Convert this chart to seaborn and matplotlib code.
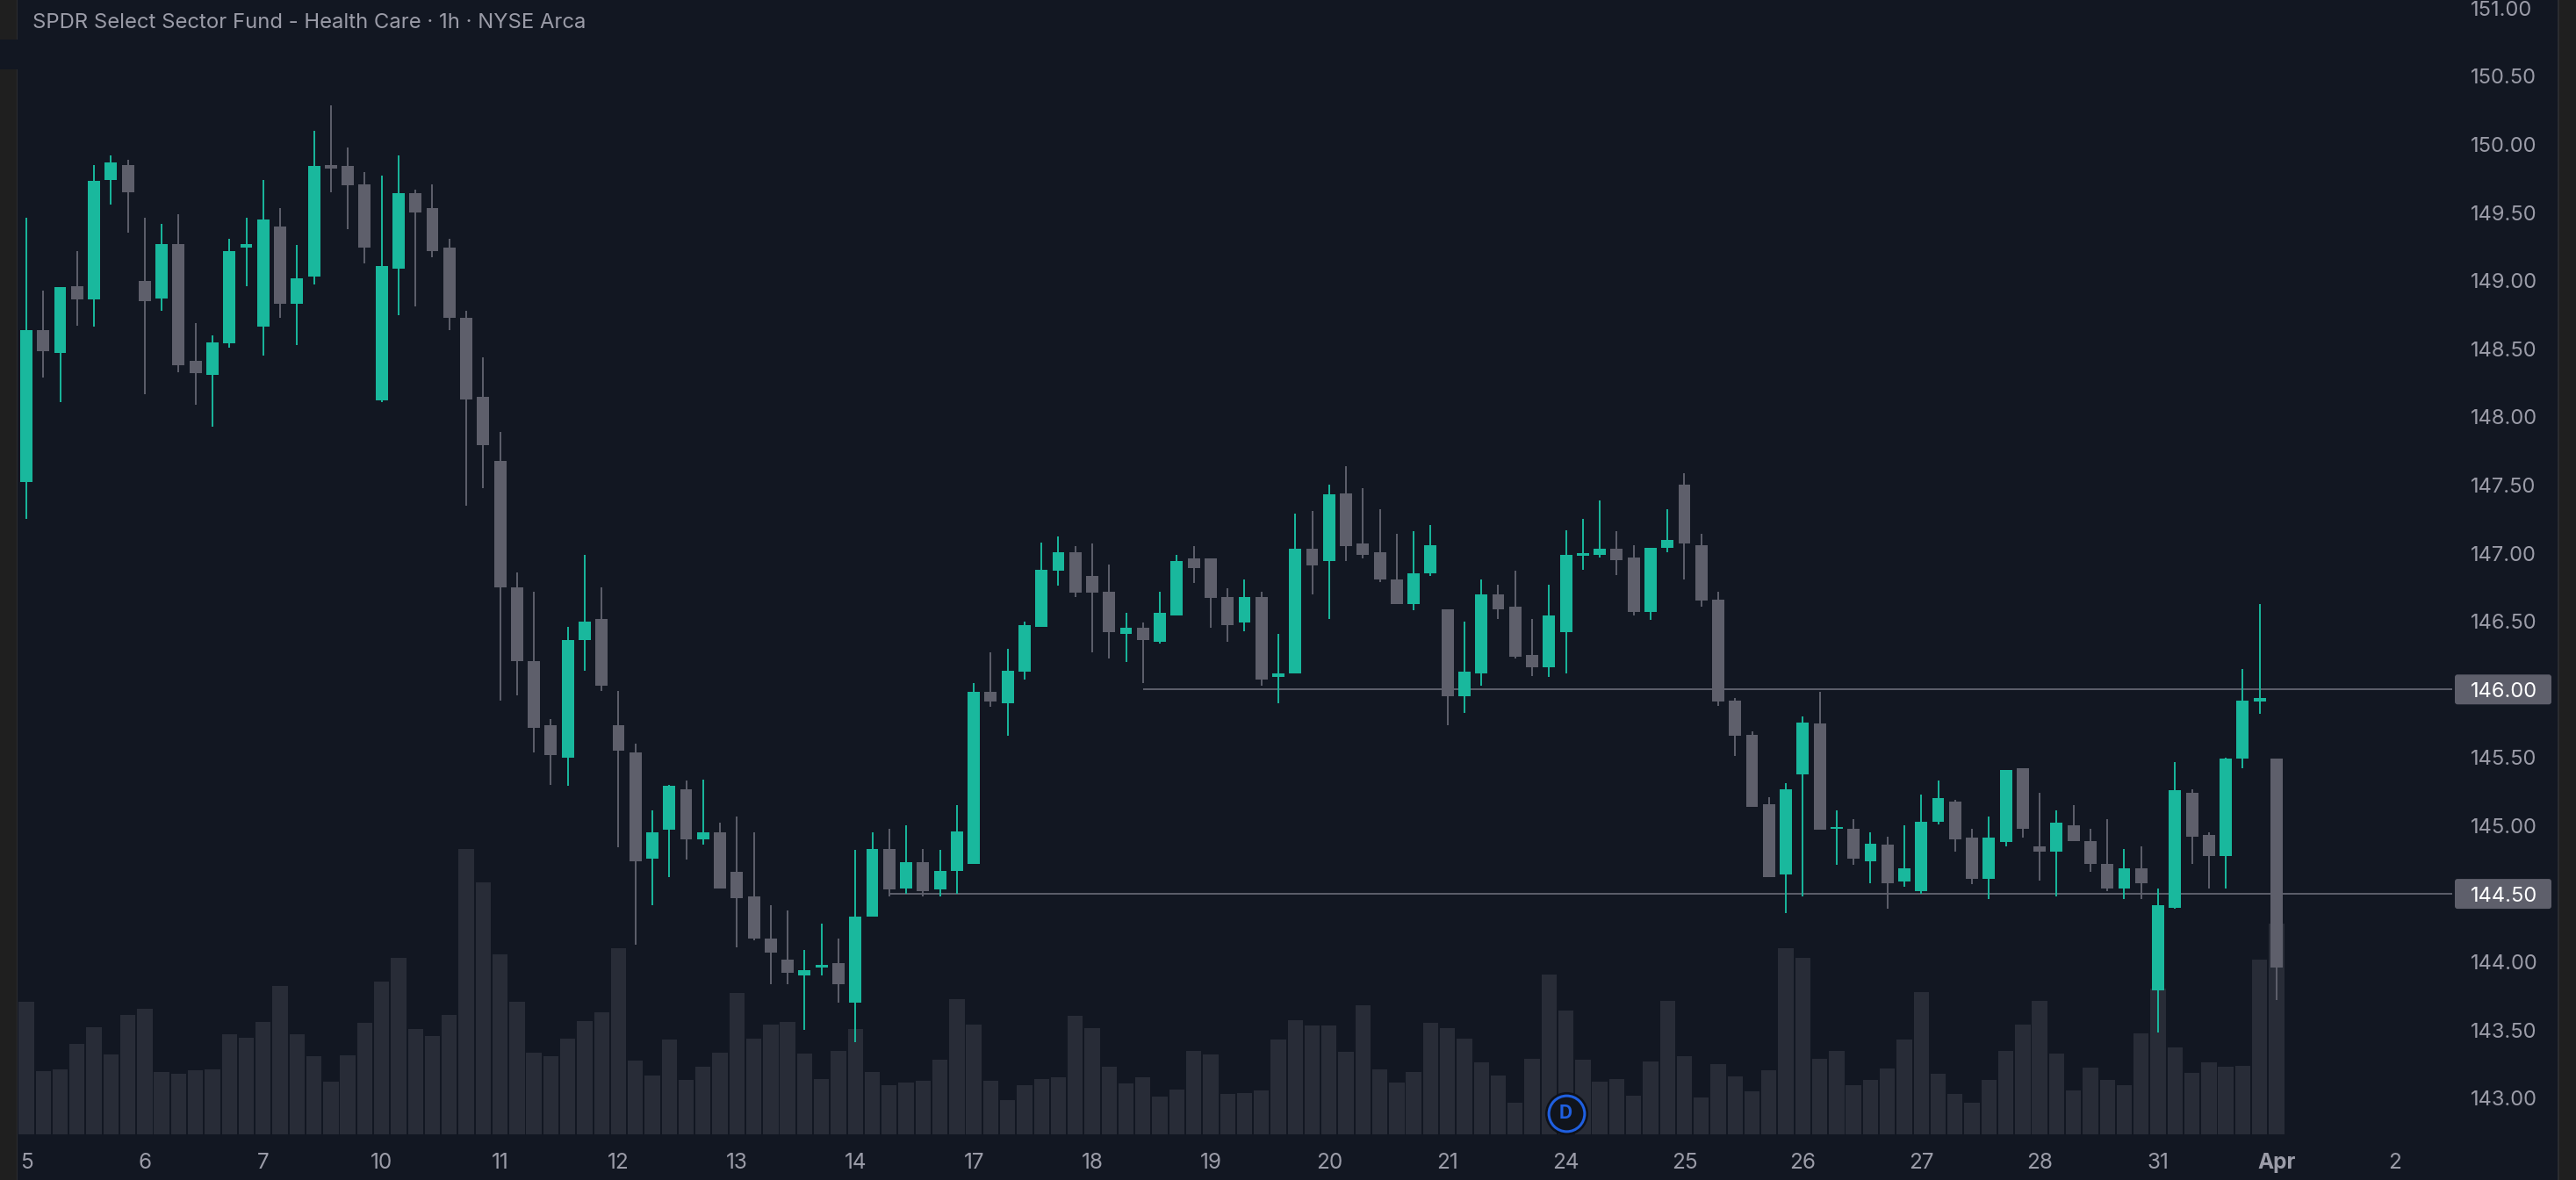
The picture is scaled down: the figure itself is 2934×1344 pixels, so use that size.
import numpy as np
import pandas as pd
import seaborn as sns
import matplotlib.pyplot as plt
from matplotlib.patches import Rectangle, FancyBboxPatch
from matplotlib.transforms import IdentityTransform

BG = '#121722'
GREEN = '#19b89d'
GRAY = '#5e5f6b'
VOL = '#282c37'
STRIP = '#1f1f1f'
STRIP_EDGE = '#2b2c30'
TEXT = '#9b9ca8'

title = 'SPDR Select Sector Fund - Health Care · 1h · NYSE Arca'
day_labels = ['5', '6', '7', '10', '11', '12', '13', '14', '17', '18', '19', '20', '21',
              '24', '25', '26', '27', '28', '31', 'Apr', '2']
price_ticks = [143.0, 143.5, 144.0, 144.5, 145.0, 145.5, 146.0, 146.5, 147.0, 147.5,
               148.0, 148.5, 149.0, 149.5, 150.0, 150.5, 151.0]
levels = [146.00, 144.50]
level_start = [66, 51]
dividend_bar = 91
dividend_price = 142.89

opens = [147.52, 148.64, 148.47, 148.96, 148.86, 149.74, 149.85, 149.00, 148.87, 149.27,
         148.41, 148.31, 148.54, 149.24, 148.66, 149.40, 148.83, 149.03, 149.85, 149.84,
         149.71, 148.12, 149.09, 149.64, 149.53, 149.24, 148.73, 148.15, 147.68, 146.75,
         146.21, 145.74, 145.50, 146.36, 146.52, 145.74, 145.54, 144.76, 144.97, 145.27,
         144.90, 144.95, 144.66, 144.48, 144.17, 144.02, 143.90, 143.96, 143.99, 143.70,
         144.33, 144.83, 144.54, 144.73, 144.53, 144.67, 144.72, 145.98, 145.90, 146.13,
         146.46, 146.87, 147.01, 146.83, 146.72, 146.41, 146.45, 146.35, 146.54, 146.96,
         146.96, 146.68, 146.49, 146.68, 146.09, 146.12, 147.03, 146.94, 147.44, 147.07,
         147.01, 146.81, 146.63, 146.85, 146.59, 145.95, 146.12, 146.70, 146.61, 146.25,
         146.16, 146.42, 146.98, 146.99, 147.03, 146.97, 146.57, 147.04, 147.50, 147.06,
         146.66, 145.92, 145.67, 145.16, 144.64, 145.38, 145.75, 144.98, 144.98, 144.74,
         144.86, 144.59, 144.52, 145.03, 145.18, 144.91, 144.61, 144.88, 145.42, 144.85,
         144.81, 145.00, 144.89, 144.72, 144.54, 144.69, 143.79, 144.40, 145.24, 144.93,
         144.78, 145.49, 145.91, 145.49]
closes = [148.64, 148.48, 148.95, 148.86, 149.73, 149.87, 149.65, 148.85, 149.27, 148.38,
          148.32, 148.55, 149.22, 149.27, 149.45, 148.83, 149.02, 149.84, 149.82, 149.70,
          149.24, 149.11, 149.64, 149.50, 149.22, 148.73, 148.13, 147.79, 146.75, 146.21,
          145.72, 145.52, 146.36, 146.50, 146.03, 145.55, 144.74, 144.95, 145.29, 144.90,
          144.95, 144.54, 144.47, 144.17, 144.07, 143.92, 143.94, 143.98, 143.84, 144.33,
          144.83, 144.53, 144.73, 144.52, 144.67, 144.96, 145.98, 145.91, 146.14, 146.47,
          146.88, 147.01, 146.71, 146.71, 146.42, 146.45, 146.36, 146.56, 146.94, 146.89,
          146.67, 146.47, 146.68, 146.07, 146.12, 147.03, 146.91, 147.43, 147.05, 146.99,
          146.81, 146.63, 146.85, 147.06, 145.95, 146.13, 146.70, 146.59, 146.24, 146.16,
          146.54, 146.99, 147.00, 147.03, 146.95, 146.57, 147.04, 147.10, 147.07, 146.65,
          145.91, 145.66, 145.14, 144.62, 145.27, 145.76, 144.97, 144.99, 144.76, 144.87,
          144.58, 144.69, 145.03, 145.20, 144.90, 144.61, 144.91, 145.41, 144.98, 144.81,
          145.02, 144.89, 144.72, 144.54, 144.69, 144.58, 144.42, 145.26, 144.92, 144.78,
          145.49, 145.92, 145.94, 143.96]
highs = [149.46, 148.93, 148.95, 149.22, 149.85, 149.92, 149.89, 149.46, 149.42, 149.49,
         148.69, 148.60, 149.31, 149.46, 149.74, 149.53, 149.26, 150.10, 150.29, 149.98,
         149.80, 149.77, 149.92, 149.67, 149.71, 149.31, 148.78, 148.44, 147.89, 146.86,
         146.72, 145.78, 146.46, 146.99, 146.75, 145.99, 145.60, 145.11, 145.30, 145.33,
         145.34, 145.02, 145.07, 144.95, 144.42, 144.38, 144.09, 144.28, 144.17, 144.82,
         144.95, 144.98, 145.00, 144.83, 144.82, 145.15, 146.05, 146.27, 146.30, 146.50,
         147.08, 147.12, 147.05, 147.07, 146.92, 146.56, 146.49, 146.72, 146.99, 147.05,
         146.96, 146.74, 146.81, 146.72, 146.41, 147.29, 147.31, 147.50, 147.64, 147.48,
         147.32, 147.14, 147.16, 147.21, 146.59, 146.50, 146.81, 146.77, 146.87, 146.52,
         146.77, 147.17, 147.25, 147.39, 147.16, 147.06, 147.04, 147.32, 147.59, 147.14,
         146.72, 145.94, 145.69, 145.21, 145.31, 145.80, 145.98, 145.11, 145.05, 144.95,
         144.92, 145.00, 145.23, 145.33, 145.19, 144.98, 145.07, 145.41, 145.42, 145.24,
         145.11, 145.15, 144.98, 145.05, 144.83, 144.85, 144.54, 145.47, 145.27, 144.95,
         145.50, 146.15, 146.63, 145.49]
lows = [147.25, 148.29, 148.11, 148.67, 148.66, 149.56, 149.35, 148.17, 148.78, 148.33,
        148.09, 147.93, 148.51, 148.96, 148.45, 148.73, 148.53, 148.97, 149.65, 149.38,
        149.13, 148.11, 148.75, 148.81, 149.17, 148.64, 147.35, 147.48, 145.92, 145.96,
        145.54, 145.30, 145.29, 146.14, 145.99, 144.84, 144.13, 144.42, 144.62, 144.75,
        144.86, 144.54, 144.11, 144.16, 143.84, 143.84, 143.50, 143.90, 143.70, 143.41,
        144.33, 144.48, 144.50, 144.48, 144.48, 144.50, 144.72, 145.87, 145.66, 146.07,
        146.46, 146.76, 146.68, 146.27, 146.23, 146.20, 146.05, 146.34, 146.54, 146.78,
        146.45, 146.35, 146.43, 146.03, 145.90, 146.12, 146.70, 146.52, 146.94, 146.96,
        146.79, 146.63, 146.58, 146.83, 145.74, 145.83, 146.03, 146.52, 146.23, 146.10,
        146.09, 146.12, 146.88, 146.97, 146.84, 146.54, 146.51, 147.01, 146.81, 146.61,
        145.88, 145.51, 145.14, 144.62, 144.36, 144.48, 144.97, 144.71, 144.71, 144.58,
        144.39, 144.55, 144.50, 145.01, 144.81, 144.57, 144.46, 144.85, 144.91, 144.60,
        144.48, 144.89, 144.66, 144.52, 144.46, 144.46, 143.48, 144.39, 144.72, 144.54,
        144.54, 145.42, 145.82, 143.72]
volumes = [151, 72, 74, 103, 122, 91, 136, 143, 71, 69, 73, 74, 114, 110, 128, 169, 114, 89, 60, 90,
           127, 174, 201, 120, 112, 136, 325, 287, 205, 151, 93, 89, 109, 129, 139, 212, 84, 67, 108, 62,
           77, 93, 161, 109, 125, 128, 92, 63, 95, 120, 71, 56, 59, 61, 85, 154, 125, 61, 39, 56,
           63, 65, 135, 121, 77, 58, 65, 43, 51, 95, 91, 46, 47, 50, 108, 130, 124, 124, 94, 147,
           74, 59, 71, 127, 121, 109, 82, 67, 36, 86, 182, 141, 85, 60, 63, 44, 83, 152, 89, 42,
           80, 66, 49, 73, 212, 201, 86, 95, 56, 62, 75, 108, 162, 69, 46, 36, 62, 95, 125, 152,
           92, 50, 76, 62, 56, 115, 166, 99, 70, 82, 77, 78, 199, 240]

sns.set_theme(style='dark')
plt.rcParams['font.family'] = ['Inter', 'DejaVu Sans']

df = pd.DataFrame({'bar': np.arange(len(opens)), 'open': opens, 'close': closes,
                   'high': highs, 'low': lows, 'volume': volumes})
df['color'] = np.where(df['close'] >= df['open'], GREEN, GRAY)

fig = plt.figure(figsize=(29.34, 13.44), dpi=100, facecolor=BG)

# volume sits in its own axes under the candles
vol_ax = fig.add_axes([0, 0, 1, 1], facecolor=BG)
sns.barplot(data=df, x='bar', y='volume', native_scale=True, color=VOL, saturation=1,
            width=0.9, linewidth=0, ax=vol_ax)
vol_ax.set_xlim(-1.557, 150.7)
vol_ax.set_ylim(-52, 1292)
vol_ax.axis('off')

ax = fig.add_axes([0, 0, 1, 1], facecolor='none')
ax.set_xlim(-1.557, 150.7)
ax.set_ylim(142.40, 151.06)

for level, start in zip(levels, level_start):
    ax.hlines(level, start, 143.4, color=GRAY, linewidth=1.4, zorder=2)

ax.vlines(df['bar'], df['low'], df['high'], colors=df['color'], linewidth=1.4, zorder=3)
ax.bar(df['bar'], (df['close'] - df['open']).abs(), bottom=df[['open', 'close']].min(axis=1),
       width=0.72, color=df['color'], linewidth=0, zorder=4)

ax.scatter([dividend_bar], [dividend_price], s=1250, color='#0e1118', linewidth=0, zorder=5)
ax.scatter([dividend_bar], [dividend_price], s=860, color='#10141c', edgecolor='#1f5fe0',
           linewidth=2.2, zorder=6)
ax.text(dividend_bar, dividend_price, 'D', color='#1f5fe0', fontsize=15, fontweight='bold',
        ha='center', va='center', zorder=7)

ax.grid(False)
for side in ax.spines.values():
    side.set_visible(False)

ax.set_xticks(np.arange(len(day_labels)) * 7)
ax.set_xticklabels(day_labels)
ax.tick_params(axis='x', length=0, pad=-22, labelsize=17.5, labelcolor=TEXT)
ax.get_xticklabels()[day_labels.index('Apr')].set_fontweight('bold')

ax.yaxis.tick_right()
ax.set_yticks(price_ticks)
ax.set_yticklabels([f'{p:.2f}' for p in price_ticks])
ax.tick_params(axis='y', length=0, pad=-86.4, labelsize=17, labelcolor=TEXT)
for lab, p in zip(ax.get_yticklabels(), price_ticks):
    if p in levels:
        lab.set_color('white')

# price tags behind the two level labels
fig.canvas.draw()
for level in levels:
    _, ypx = ax.transData.transform((0, level))
    ax.add_patch(FancyBboxPatch((2799, ypx - 14), 104, 28, boxstyle='round,pad=3',
                                transform=IdentityTransform(), facecolor=GRAY,
                                edgecolor='none', zorder=0.2, clip_on=False))

fig.text(37 / 2934, 1 - 26 / 1344, title, color=TEXT, fontsize=17.15, va='center', ha='left', zorder=8)

# window chrome on both sides
W, H = 2934, 1344
for x0, y0, w, h, c in [(0, 0, 18.5, H - 79, STRIP), (0, H - 45, 18.5, 45, STRIP),
                        (18.5, 0, 1.5, H - 79, STRIP_EDGE), (18.5, H - 45, 1.5, 45, STRIP_EDGE),
                        (2915, 0, 19, H, STRIP), (2913, 0, 2, H, STRIP_EDGE)]:
    fig.add_artist(Rectangle((x0 / W, y0 / H), w / W, h / H, transform=fig.transFigure,
                             facecolor=c, edgecolor='none', zorder=8))

fig.savefig('out.png', dpi=100, facecolor=BG)
